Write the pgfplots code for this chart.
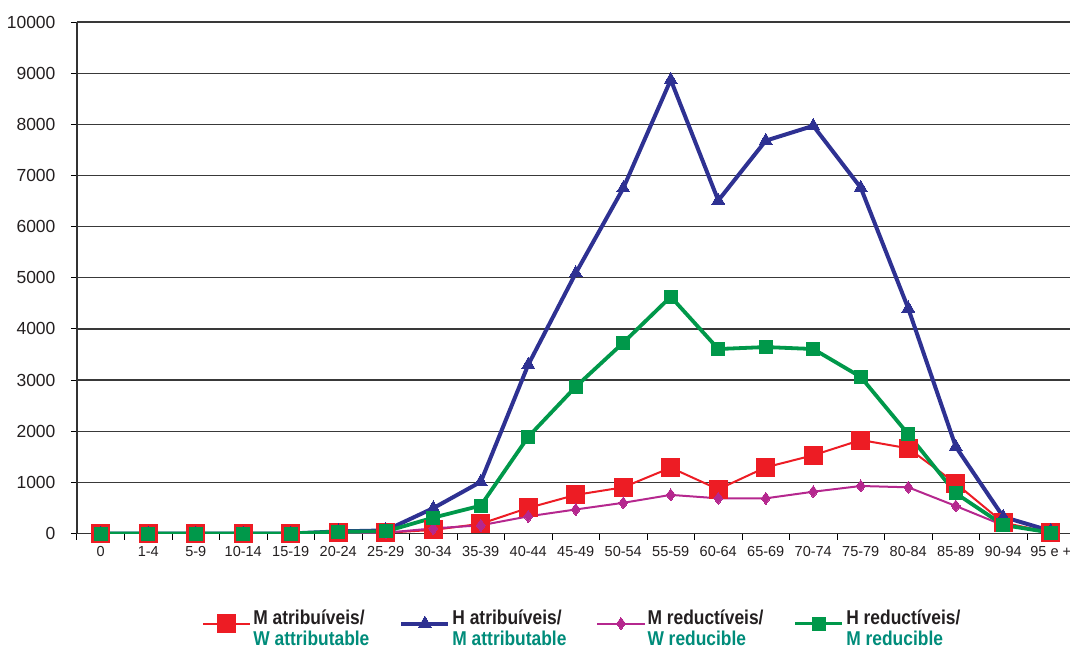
\documentclass[border=0pt]{standalone}
\usepackage{pgfplots}
\pgfplotsset{compat=1.18}
\usepackage{fontspec}
\setmainfont{Liberation Sans}
\newfontfamily\legfont{Liberation Sans}[FakeStretch=0.87]
\definecolor{cRed}{HTML}{ED1C24}
\definecolor{cBlue}{HTML}{2E3192}
\definecolor{cMag}{HTML}{B5278E}
\definecolor{cGreen}{HTML}{00984A}
\definecolor{cTeal}{HTML}{008C7A}
\definecolor{cDark}{HTML}{231F20}
\newcommand\leg[2]{\begin{tabular}{@{}l@{}}\color{cDark}#1\\\color{cTeal}#2\end{tabular}}
\begin{document}
\begin{tikzpicture}
\begin{axis}[
  scale only axis,
  width=993pt, height=511.5pt,
  xmin=-0.5, xmax=20.405,
  ymin=0, ymax=10000,
  axis x line*=bottom, axis y line*=left,
  xtick={0,...,20},
  xticklabels={0,1-4,5-9,10-14,15-19,20-24,25-29,30-34,35-39,40-44,45-49,50-54,55-59,60-64,65-69,70-74,75-79,80-84,85-89,90-94,95 e +},
  minor xtick={-0.5,0.5,...,20.5},
  major x tick style={draw=none},
  ytick={0,1000,...,10000},
  tick align=outside,
  major tick length=6pt, minor tick length=6pt,
  every tick/.style={black, line width=1pt},
  scaled y ticks=false,
  /pgf/number format/1000 sep={},
  /pgf/number format/assume math mode=true,
  yticklabel style={font=\fontsize{17.5}{19}\selectfont, text=cDark, xshift=-12pt},
  xticklabel style={font=\fontsize{14.5}{16}\selectfont, text=cDark, yshift=-3pt},
  ymajorgrids,
  major grid style={gray!45!black, line width=1.3pt},
  axis line style={black!80, line width=1.2pt},
  legend columns=4,
  legend style={draw=none, fill=none, at={(0.509,-0.176)}, anchor=center,
    font=\legfont\bfseries\fontsize{20}{20}\selectfont,
    nodes={inner xsep=2pt, inner ysep=0pt},
    /tikz/every even column/.append style={column sep=28pt}},
  legend cell align=left,
  legend image code/.code={\draw[mark repeat=2,mark phase=2] plot coordinates {(0pt,0pt) (23.5pt,0pt) (47pt,0pt)};},
]
\addplot[cRed, line width=2pt, mark=square*, mark size=9pt, mark options={solid, fill=cRed, draw=cRed, line width=0pt}] coordinates {
(0,0) (1,0) (2,0) (3,0) (4,0) (5,10) (6,15) (7,70) (8,190) (9,500) (10,755) (11,903) (12,1287) (13,864) (14,1294) (15,1530) (16,1828) (17,1665) (18,980) (19,212) (20,20)};
\addlegendentry{\leg{M atribuíveis/}{W attributable}}
\addplot[cBlue, line width=4pt, mark=triangle*, mark size=7.5pt, mark options={solid, fill=cBlue, draw=cBlue, line width=0pt}] coordinates {
(0,0) (1,0) (2,0) (3,0) (4,0) (5,40) (6,60) (7,495) (8,1010) (9,3300) (10,5090) (11,6750) (12,8870) (13,6510) (14,7680) (15,7970) (16,6760) (17,4400) (18,1697) (19,325) (20,50)};
\addlegendentry{\leg{H atribuíveis/}{M attributable}}
\addplot[cMag, line width=2pt, mark=diamond*, mark size=6pt, mark options={solid, fill=cMag, draw=cMag, line width=0pt}] coordinates {
(0,0) (1,0) (2,0) (3,0) (4,0) (5,10) (6,15) (7,100) (8,160) (9,335) (10,470) (11,600) (12,755) (13,688) (14,688) (15,817) (16,929) (17,903) (18,538) (19,160) (20,20)};
\addlegendentry{\leg{M reductíveis/}{W reducible}}
\addplot[cGreen, line width=3.8pt, mark=square*, mark size=6.5pt, mark options={solid, fill=cGreen, draw=cGreen, line width=0pt}] coordinates {
(0,0) (1,0) (2,0) (3,0) (4,0) (5,35) (6,40) (7,310) (8,545) (9,1890) (10,2870) (11,3730) (12,4630) (13,3607) (14,3645) (15,3607) (16,3060) (17,1940) (18,786) (19,166) (20,18)};
\addlegendentry{\leg{H reductíveis/}{M reducible}}
\end{axis}
\pgfresetboundingbox
\path[use as bounding box] (-77pt,-115.5pt) rectangle (993pt,533.5pt);
\end{tikzpicture}
\end{document}
